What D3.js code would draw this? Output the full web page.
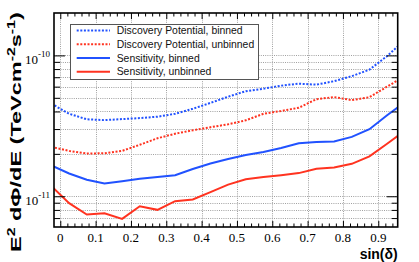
<!DOCTYPE html>
<html><head><meta charset="utf-8">
<script src="https://cdn.jsdelivr.net/npm/d3@7"></script>
<style>body{margin:0;background:#fff}svg{display:block}</style>
</head><body>
<svg id="c" width="419" height="262"></svg>
<script>
// ---- data ----
const sinDec = [-0.025, 0.025, 0.075, 0.125, 0.175, 0.225, 0.275, 0.325, 0.375, 0.425, 0.475,
                0.525, 0.575, 0.625, 0.675, 0.725, 0.775, 0.825, 0.875, 0.925, 0.975];
const discBinned = [4.54e-11, 3.85e-11, 3.52e-11, 3.47e-11, 3.53e-11, 3.59e-11, 3.67e-11, 3.85e-11, 4.18e-11, 4.60e-11,
                    5.09e-11, 5.57e-11, 5.80e-11, 6.10e-11, 6.30e-11, 6.20e-11, 6.56e-11, 7.12e-11, 7.92e-11, 9.89e-11, 1.285e-10];
const discUnbinned = [2.24e-11, 2.10e-11, 2.01e-11, 2.02e-11, 2.10e-11, 2.32e-11, 2.58e-11, 2.78e-11, 2.94e-11, 3.09e-11,
                      3.24e-11, 3.46e-11, 3.85e-11, 4.03e-11, 4.25e-11, 4.89e-11, 5.06e-11, 4.81e-11, 5.05e-11, 6.00e-11, 7.12e-11];
const sensBinned = [1.656e-11, 1.45e-11, 1.31e-11, 1.23e-11, 1.28e-11, 1.33e-11, 1.37e-11, 1.41e-11, 1.56e-11, 1.71e-11,
                    1.84e-11, 1.96e-11, 2.06e-11, 2.20e-11, 2.38e-11, 2.43e-11, 2.45e-11, 2.64e-11, 2.99e-11, 3.76e-11, 4.65e-11];
const sensUnbinned = [1.18e-11, 8.93e-12, 7.42e-12, 7.58e-12, 6.91e-12, 8.50e-12, 8.01e-12, 9.23e-12, 9.49e-12, 1.07e-11,
                      1.21e-11, 1.32e-11, 1.37e-11, 1.41e-11, 1.46e-11, 1.57e-11, 1.60e-11, 1.70e-11, 1.92e-11, 2.36e-11, 2.92e-11];
const seriesNames = ["Discovery Potential, binned", "Discovery Potential, unbinned", "Sensitivity, binned", "Sensitivity, unbinned"];
const xTickLabels = ["0", "0.1", "0.2", "0.3", "0.4", "0.5", "0.6", "0.7", "0.8", "0.9"];
const xTickValues = [0, 0.1, 0.2, 0.3, 0.4, 0.5, 0.6, 0.7, 0.8, 0.9];
const yMajorValues = [1e-11, 1e-10];
const yMajorExp = ["-11", "-10"];
const yMinorValues = [7e-12, 8e-12, 9e-12, 2e-11, 3e-11, 4e-11, 5e-11, 6e-11, 7e-11, 8e-11, 9e-11];

// ---- layout ----
const L = 54, R = 397.7, T = 13, B = 227;
const BLUE = "#2152ff", RED = "#ff3320";
const svg = d3.select("#c");
const x = d3.scaleLinear().domain([-0.0178, 0.955]).range([L, R]);
const y = d3.scaleLog().domain([6.05e-12, 2e-10]).range([B, T]);

svg.append("defs").append("clipPath").attr("id", "clip")
  .append("rect").attr("x", L).attr("y", T).attr("width", R - L).attr("height", B - T);

// grid
const grid = svg.append("g").attr("stroke", "#a0a0a0").attr("stroke-width", 1).attr("stroke-dasharray", "1,1.2");
xTickValues.forEach(v => grid.append("line").attr("x1", Math.round(x(v)) + 0.5).attr("x2", Math.round(x(v)) + 0.5).attr("y1", T).attr("y2", B));
yMajorValues.concat(yMinorValues).forEach(v => grid.append("line").attr("y1", Math.round(y(v)) + 0.5).attr("y2", Math.round(y(v)) + 0.5).attr("x1", L).attr("x2", R));

// series
const series = [
  {v: discBinned, c: BLUE, dash: "2,1.6"},
  {v: discUnbinned, c: RED, dash: "2,1.6"},
  {v: sensBinned, c: BLUE, dash: null},
  {v: sensUnbinned, c: RED, dash: null}
];
const line = d3.line().x(d => x(d[0])).y(d => y(d[1]));
const plot = svg.append("g").attr("clip-path", "url(#clip)");
series.forEach(s => {
  plot.append("path").datum(sinDec.map((xv, i) => [xv, s.v[i]]))
    .attr("d", line).attr("fill", "none").attr("stroke", s.c).attr("stroke-width", 2)
    .attr("stroke-dasharray", s.dash);
});

// axes (ticks inward)
function styleAxis(g) { g.select(".domain").remove(); g.selectAll("line").attr("stroke", "#000").attr("stroke-width", 1); g.selectAll("text").remove(); }
const minorX = d3.range(0.02, 0.955, 0.02).filter(v => Math.abs(v * 10 - Math.round(v * 10)) > 1e-6);
svg.append("g").attr("transform", `translate(0,${B})`).call(d3.axisBottom(x).tickValues(xTickValues).tickSize(-6)).call(styleAxis);
svg.append("g").attr("transform", `translate(0,${B})`).call(d3.axisBottom(x).tickValues(minorX).tickSize(-3.5)).call(styleAxis);
svg.append("g").attr("transform", `translate(0,${T})`).call(d3.axisTop(x).tickValues(xTickValues).tickSize(-6)).call(styleAxis);
svg.append("g").attr("transform", `translate(0,${T})`).call(d3.axisTop(x).tickValues(minorX).tickSize(-3.5)).call(styleAxis);
svg.append("g").attr("transform", `translate(${L},0)`).call(d3.axisLeft(y).tickValues(yMajorValues).tickSize(-11)).call(styleAxis);
svg.append("g").attr("transform", `translate(${L},0)`).call(d3.axisLeft(y).tickValues(yMinorValues).tickSize(-6)).call(styleAxis);
svg.append("g").attr("transform", `translate(${R},0)`).call(d3.axisRight(y).tickValues(yMajorValues).tickSize(-11)).call(styleAxis);
svg.append("g").attr("transform", `translate(${R},0)`).call(d3.axisRight(y).tickValues(yMinorValues).tickSize(-6)).call(styleAxis);

// frame
svg.append("rect").attr("x", L).attr("y", T).attr("width", R - L).attr("height", B - T)
  .attr("fill", "none").attr("stroke", "#000").attr("stroke-width", 1.6);

// tick labels
const serif = "'Liberation Serif','Times New Roman',serif";
xTickValues.forEach((v, i) => svg.append("text").attr("x", x(v)).attr("y", 241.5).attr("text-anchor", "middle")
  .attr("font-family", serif).attr("font-size", 13).text(xTickLabels[i]));
yMajorValues.forEach((v, i) => {
  const t = svg.append("text").attr("x", 50).attr("y", y(v) + 8.5).attr("text-anchor", "end")
    .attr("font-family", serif).attr("font-size", 13);
  t.append("tspan").text("10");
  t.append("tspan").attr("font-size", 9).attr("dy", -7).text(yMajorExp[i]);
});

// axis titles
const sans = "'Liberation Sans',Arial,Helvetica,sans-serif";
svg.append("text").attr("x", R).attr("y", 258.5).attr("text-anchor", "end")
  .attr("font-family", sans).attr("font-weight", "bold").attr("font-size", 14).text("sin(δ)");
const yt = svg.append("g").attr("transform", "translate(20.5,252) rotate(-90)");
const ytt = yt.append("text").attr("font-family", sans).attr("font-weight", "bold").attr("font-size", 15.5);
ytt.append("tspan").text("E");
ytt.append("tspan").attr("font-size", 10.5).attr("dy", -6).text("2");
ytt.append("tspan").attr("dy", 6).text(" dΦ/dE (TeVcm");
ytt.append("tspan").attr("font-size", 10.5).attr("dy", -6).text("-2");
ytt.append("tspan").attr("dy", 6).text("s");
ytt.append("tspan").attr("font-size", 10.5).attr("dy", -6).text("-1");
ytt.append("tspan").attr("dy", 6).text(")");
const len = ytt.node().getComputedTextLength();
ytt.attr("transform", `scale(${240 / len},1)`);

// legend
const lg = svg.append("g");
lg.append("rect").attr("x", 70.5).attr("y", 24.5).attr("width", 188).attr("height", 55)
  .attr("fill", "#fff").attr("stroke", "#555").attr("stroke-width", 1);
const rowsY = [30.5, 44.2, 58, 71.7];
series.forEach((s, i) => {
  lg.append("line").attr("x1", 76.7).attr("x2", 110).attr("y1", rowsY[i]).attr("y2", rowsY[i])
    .attr("stroke", s.c).attr("stroke-width", 2).attr("stroke-dasharray", s.dash);
  lg.append("text").attr("x", 116.7).attr("y", rowsY[i] + 3.7).attr("font-family", sans)
    .attr("font-size", 10.4).attr("fill", "#111").text(seriesNames[i]);
});
</script>
</body></html>
